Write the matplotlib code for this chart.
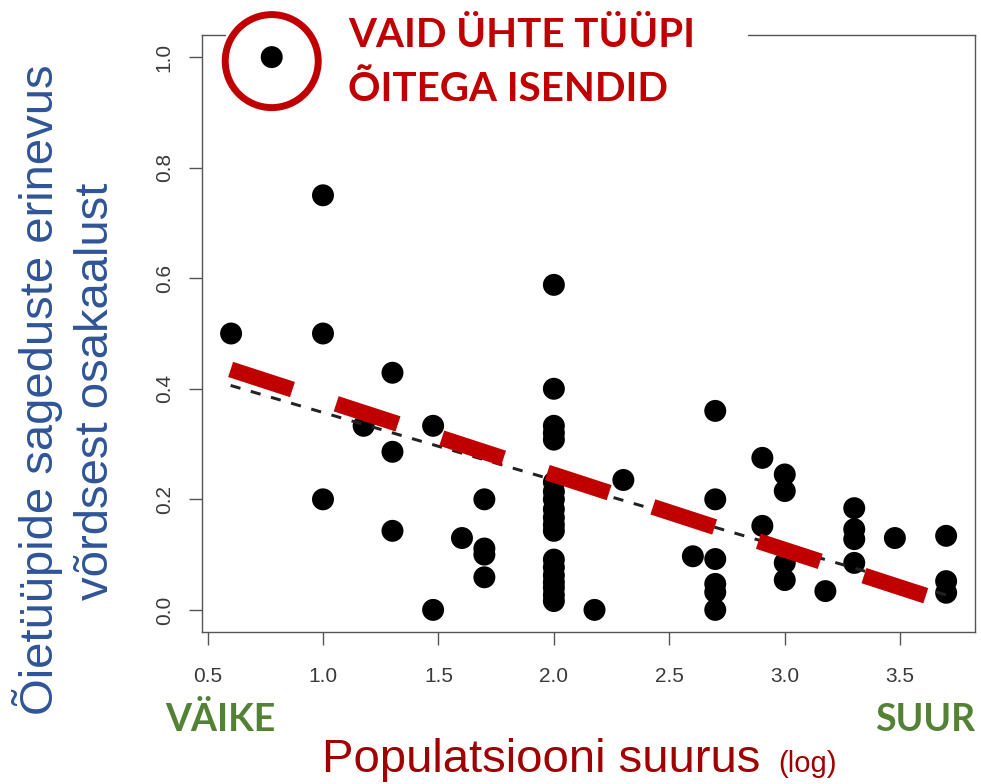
import matplotlib
matplotlib.use("Agg")
import matplotlib.pyplot as plt
from matplotlib.patches import Rectangle, Circle
from matplotlib.transforms import IdentityTransform

# ---------------- data ----------------
pop_log = ([0.602] + [0.778] + [1.0] * 3 + [1.176] + [1.301] * 3 + [1.477] * 2 + [1.602] +
           [1.699] * 4 + [2.0] * 19 + [2.176] + [2.301] + [2.602] + [2.699] * 6 +
           [2.903] * 2 + [3.0] * 4 + [3.176] + [3.301] * 4 + [3.477] + [3.699] * 3)
diff = ([0.5] + [1.0] + [0.75, 0.5, 0.2] + [0.333] + [0.429, 0.286, 0.143] + [0.333, 0.0] + [0.13] +
        [0.2, 0.111, 0.1, 0.059] +
        [0.588, 0.4, 0.333, 0.32, 0.308, 0.231, 0.214, 0.2, 0.182, 0.167, 0.154, 0.143,
         0.091, 0.077, 0.0625, 0.05, 0.04, 0.027, 0.016] +
        [0.0] + [0.235] + [0.097] + [0.36, 0.2, 0.092, 0.047, 0.032, 0.0] +
        [0.275, 0.152] + [0.245, 0.215, 0.085, 0.054] + [0.034] +
        [0.184, 0.146, 0.128, 0.085] + [0.13] + [0.134, 0.052, 0.031])

fit_x = [0.6, 3.699]
fit_y = [0.406, 0.027]
trend_x = [0.6, 3.63]
trend_y = [0.435, 0.023]

x_ticks = [0.5, 1.0, 1.5, 2.0, 2.5, 3.0, 3.5]
y_ticks = [0.0, 0.2, 0.4, 0.6, 0.8, 1.0]
x_tick_labels = ["0.5", "1.0", "1.5", "2.0", "2.5", "3.0", "3.5"]
y_tick_labels = ["0.0", "0.2", "0.4", "0.6", "0.8", "1.0"]

highlight_x, highlight_y = 0.778, 1.0

ylabel_1 = "Õietüüpide sageduste erinevus"
ylabel_2 = "võrdsest osakaalust"
xlabel = "Populatsiooni suurus"
xlabel_small = "(log)"
note_1 = "VAID ÜHTE TÜÜPI"
note_2 = "ÕITEGA ISENDID"
left_word = "VÄIKE"
right_word = "SUUR"

# ---------------- figure ----------------
W, H = 981, 784
fig = plt.figure(figsize=(W / 100, H / 100), dpi=100)
fig.patch.set_facecolor("white")

def fx(px):
    return px / W

def fy(py):
    return 1 - py / H

ax = fig.add_axes([fx(202), fy(632), (975 - 202) / W, (632 - 35) / H])
ax.set_xlim(0.476, 3.824)
ax.set_ylim(-0.04, 1.04)

spine_col = "#555555"
for s in ax.spines.values():
    s.set_color(spine_col)
    s.set_linewidth(1.0)

ax.set_xticks(x_ticks)
ax.set_xticklabels(x_tick_labels)
ax.set_yticks(y_ticks)
ax.set_yticklabels(y_tick_labels, rotation=90, va="center")
ax.tick_params(axis="both", direction="out", length=9.4, width=1.0, color=spine_col,
               labelsize=15, labelcolor="#3a3a3a")
ax.tick_params(axis="x", pad=16)
ax.tick_params(axis="y", pad=11)
for lab in ax.get_xticklabels() + ax.get_yticklabels():
    lab.set_family("Liberation Sans")

ax.scatter(pop_log, diff, s=250, color="black", edgecolors="none", zorder=3)

ax.plot(fit_x, fit_y, color="#222222", lw=2.16, dashes=(3.4, 3.6),
        dash_capstyle="butt", zorder=4)
ax.plot(trend_x, trend_y, color="#C00000", lw=11.5, dashes=(4.07, 2.88),
        dash_capstyle="butt", zorder=5)

# white box hiding the top spine behind the note
fig.add_artist(Rectangle((fx(226), fy(40)), (748 - 226) / W, 10 / H,
                         transform=fig.transFigure, facecolor="white",
                         edgecolor="none", zorder=5))

# circle around the highlighted point
fig.canvas.draw()
cx, cy = ax.transData.transform((highlight_x, highlight_y))
circ = Circle((cx, cy - 4), 46.5, transform=IdentityTransform(), fill=False,
              edgecolor="#C00000", linewidth=5.0, zorder=6)
fig.add_artist(circ)

red = "#C00000"
fig.text(fx(348), fy(47), note_1, color=red, fontsize=29, fontweight="bold",
         family="Lato", ha="left", va="baseline", zorder=7)
fig.text(fx(348), fy(101), note_2, color=red, fontsize=29, fontweight="bold",
         family="Lato", ha="left", va="baseline", zorder=7)

blue = "#2F5597"
fig.text(fx(53), fy(390), ylabel_1, color=blue, fontsize=34, family="Liberation Sans",
         rotation=90, rotation_mode="anchor", ha="center", va="baseline")
fig.text(fx(108), fy(391), ylabel_2, color=blue, fontsize=34, family="Liberation Sans",
         rotation=90, rotation_mode="anchor", ha="center", va="baseline")

dark_red = "#A00000"
fig.text(fx(322), fy(772), xlabel, color=dark_red, fontsize=34, family="Liberation Sans",
         ha="left", va="baseline")
fig.text(fx(778), fy(772), xlabel_small, color=dark_red, fontsize=21, family="Liberation Sans",
         ha="left", va="baseline")

green = "#548235"
fig.text(fx(165), fy(731), left_word, color=green, fontsize=27, fontweight="bold",
         family="Lato", ha="left", va="baseline")
fig.text(fx(975), fy(731), right_word, color=green, fontsize=27, fontweight="bold",
         family="Lato", ha="right", va="baseline")

fig.savefig("out.png", dpi=100, facecolor="white")
